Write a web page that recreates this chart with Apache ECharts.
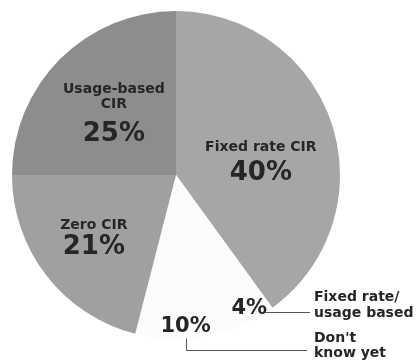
<!DOCTYPE html>
<html>
<head>
<meta charset="utf-8">
<script src="https://cdn.jsdelivr.net/npm/echarts@6/dist/echarts.min.js"></script>
<style>html,body{margin:0;padding:0;background:#fff}#c{width:416px;height:364px}</style>
</head>
<body>
<div id="c"></div>
<script>
var categories = ['Fixed rate CIR', 'Fixed rate/\nusage based', "Don't\nknow yet", 'Zero CIR', 'Usage-based\nCIR'];
var values = [40, 4, 10, 21, 25];
var sliceColors = ['#a7a5a8', '#fcfcfc', '#fcfcfc', '#a0a0a0', '#8d8d8d'];
var insideLabelOffsets = [[4, 17], null, null, [-15, 13], [-2, 4]];
var valueLineHeights = [37, 0, 0, 30, 44];
var FONT = 'DejaVu Sans';

var chart = echarts.init(document.getElementById('c'), null, {renderer: 'canvas'});

var mainData = categories.map(function (c, i) {
  var item = {name: c, value: values[i], itemStyle: {color: sliceColors[i]}};
  if (insideLabelOffsets[i]) {
    item.label = {
      show: true,
      offset: insideLabelOffsets[i],
      rich: {
        n: {fontFamily: FONT, fontWeight: 'bold', fontSize: 14, lineHeight: 15, color: '#262626'},
        v: {fontFamily: FONT, fontWeight: 'bold', fontSize: 26, lineHeight: valueLineHeights[i], color: '#262626'}
      }
    };
  } else {
    item.label = {show: false};
  }
  return item;
});

var rimData = categories.map(function (c, i) {
  return {name: c, value: values[i], label: {show: !insideLabelOffsets[i]}};
});

var option = {
  backgroundColor: '#ffffff',
  animation: false,
  series: [
    {
      type: 'pie',
      center: [176, 175],
      radius: [0, 164],
      startAngle: 90,
      clockwise: true,
      silent: true,
      itemStyle: {borderWidth: 0},
      label: {
        position: 'inside',
        formatter: function (p) { return '{n|' + p.name.split('\n').join('}\n{n|') + '}\n{v|' + p.value + '%}'; }
      },
      labelLine: {show: false},
      data: mainData
    },
    {
      type: 'pie',
      center: [176, 175],
      radius: [134, 164],
      startAngle: 90,
      clockwise: true,
      silent: true,
      itemStyle: {color: 'rgba(0,0,0,0)', borderWidth: 0},
      label: {
        position: 'inside',
        formatter: '{c}%',
        fontFamily: FONT,
        fontWeight: 'bold',
        fontSize: 21,
        color: '#262626'
      },
      labelLine: {show: false},
      data: rimData
    }
  ],
  graphic: [
    {type: 'polyline', shape: {points: [[255, 312.5], [310, 312.5]]}, style: {stroke: '#555', lineWidth: 1, fill: null}},
    {type: 'polyline', shape: {points: [[186.5, 333], [186.5, 350.5], [307, 350.5]]}, style: {stroke: '#555', lineWidth: 1, fill: null}},
    {type: 'text', left: 314, top: 289, style: {text: categories[1], font: 'bold 14px "DejaVu Sans"', lineHeight: 16, fill: '#262626'}},
    {type: 'text', left: 314, top: 331, style: {text: categories[2], font: 'bold 14px "DejaVu Sans"', lineHeight: 15, fill: '#262626'}}
  ]
};
chart.setOption(option);
</script>
</body>
</html>
